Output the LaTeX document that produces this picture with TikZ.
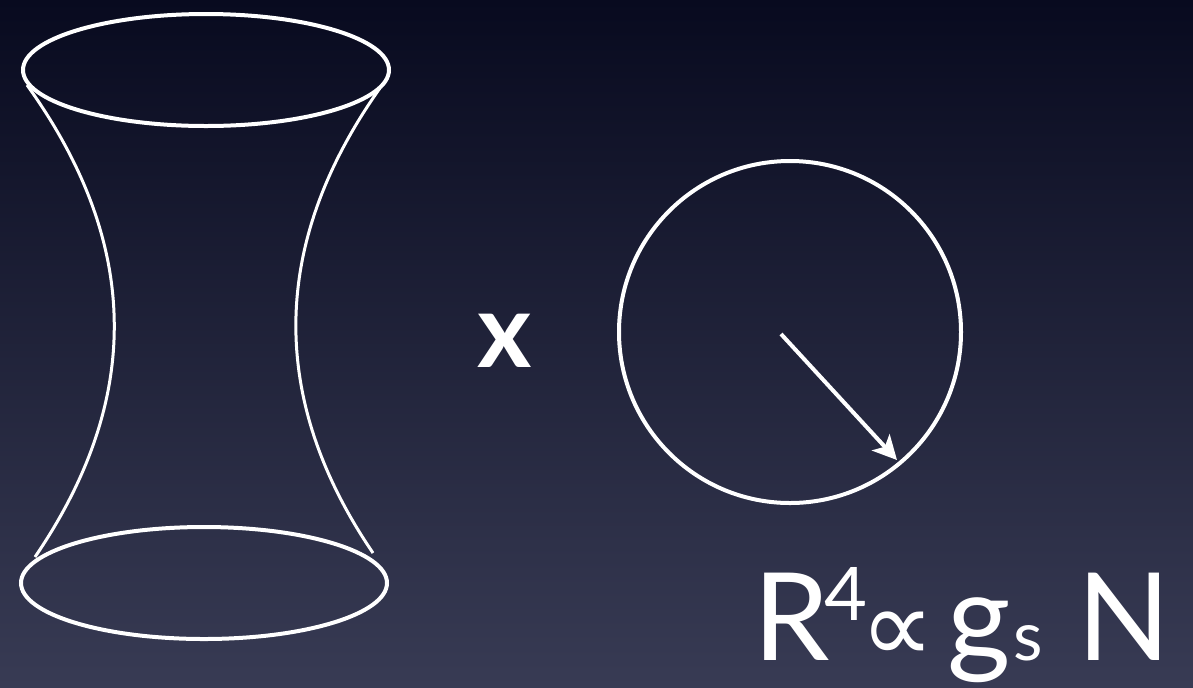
\documentclass[tikz,border=0pt]{standalone}
\usepackage{fontspec}
\newfontfamily\lato{Lato}
\newfontfamily\dejavu{DejaVu Sans}
\usetikzlibrary{arrows.meta}
\definecolor{bgtop}{HTML}{080A1F}
\definecolor{bgbot}{HTML}{383B54}

\begin{document}
\begin{tikzpicture}[x=0.5pt,y=-0.5pt,
  rim/.style={white,line width=2pt},
  side/.style={white,line width=1.5pt},
  radius arrow/.style={white,line width=2pt,
    -{Stealth[length=12pt,width=12pt,inset=3pt]}},
  glyph/.style={text=white,inner sep=0,anchor=base,font=\lato\fontsize{61}{61}\selectfont}]
  \useasboundingbox (0,0) rectangle (1193,687);
  \shade[top color=bgtop,bottom color=bgbot] (0,0) rectangle (1193,687);

  % hyperboloid: two rims and the waist
  \draw[rim] (206,70) ellipse [x radius=183,y radius=56];
  \draw[rim] (204,583) ellipse [x radius=183,y radius=56];
  \coordinate (tl) at (27,85);   \coordinate (bl) at (35,557);
  \coordinate (tr) at (380,88);  \coordinate (br) at (373,553);
  \draw[side] (tl) .. controls (142,245) and (142,400) .. (bl);
  \draw[side] (tr) .. controls (269,245) and (269,400) .. (br);

  \node[text=white,inner sep=0,font=\lato\bfseries\fontsize{52}{52}\selectfont] (times) at (505,341) {x};

  % the sphere and its radius
  \draw[rim] (790,332) circle [radius=171];
  \coordinate (hub) at (781,334);
  \coordinate (edge) at (897,460);
  \draw[radius arrow] (hub) -- (edge);

  % R^4 ~ g_s N
  \node[glyph] (rr) at (792,660) {R};
  \node[glyph,font=\lato\fontsize{37}{37}\selectfont] (four) at (846,620) {4};
  \node[glyph,anchor=center,font=\dejavu\fontsize{52}{52}\selectfont] (prop) at (898,637) {∝};
  \node[glyph] (gg) at (979,660) {g};
  \node[glyph,font=\lato\fontsize{34}{34}\selectfont] (ss) at (1028,660) {s};
  \node[glyph] (nn) at (1124,660) {N};
\end{tikzpicture}
\end{document}
